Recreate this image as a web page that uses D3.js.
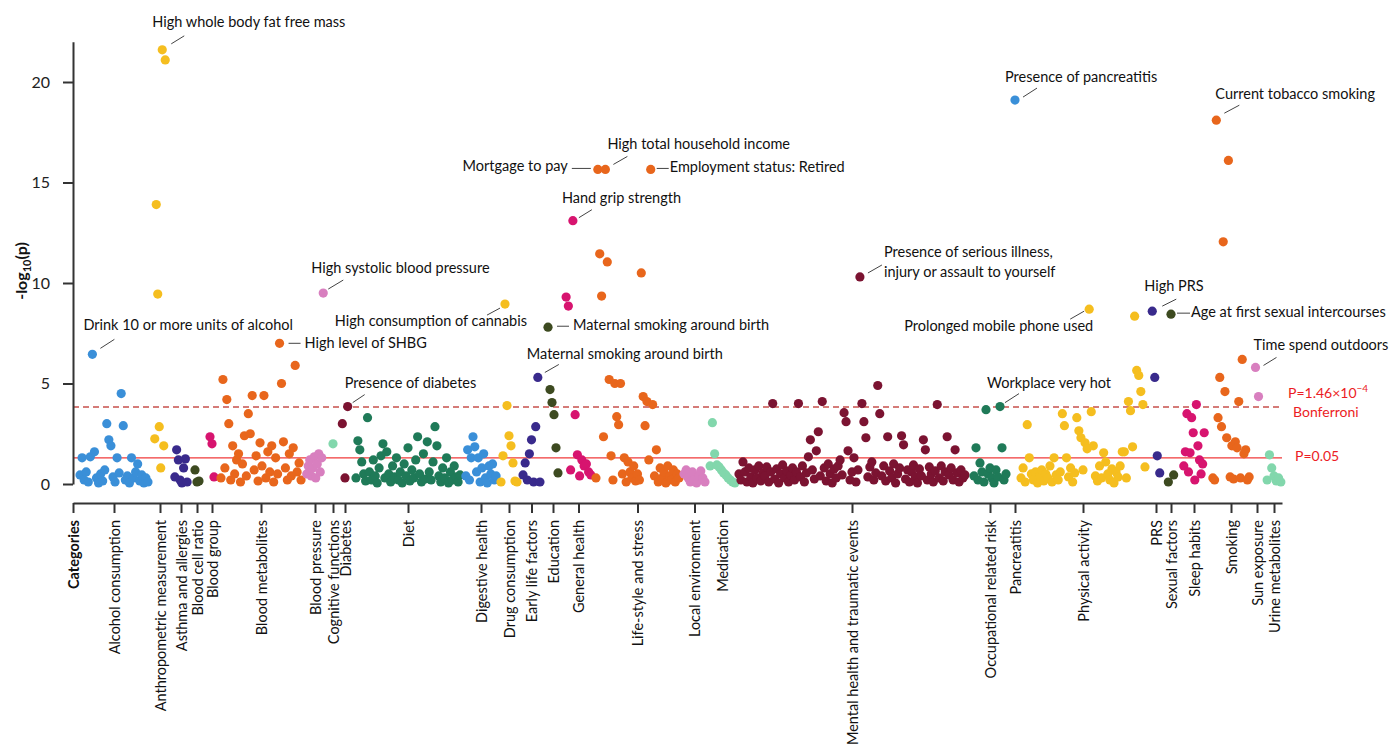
<!DOCTYPE html>
<html>
<head>
<meta charset="utf-8">
<script src="https://cdn.jsdelivr.net/npm/d3@7"></script>
<style>
  body { margin: 0; background: #fff; }
  svg { display: block; }
  text { font-family: Lato, "Open Sans", sans-serif; fill: #111; }
</style>
</head>
<body>
<svg id="chart" width="1392" height="754"></svg>
<script>
// Phenotype categories, in plotting order
const categories = [
  "Alcohol consumption", "Anthropometric measurement", "Asthma and allergies", "Blood cell ratio",
  "Blood group", "Blood metabolites", "Blood pressure", "Cognitive functions", "Diabetes", "Diet",
  "Digestive health", "Drug consumption", "Early life factors", "Education", "General health",
  "Life-style and stress", "Local environment", "Medication", "Mental health and traumatic events",
  "Occupational related risk", "Pancreatitis", "Physical activity", "PRS", "Sexual factors",
  "Sleep habits", "Smoking", "Sun exposure", "Urine metabolites"
];

// Phenotype-index range occupied by each category
const catStart = [6, 81, 101, 121, 136, 147, 233, 258, 268, 282, 392, 427, 449, 474, 492, 522, 610, 636, 665, 900, 939, 947, 1078, 1094, 1110, 1139, 1181, 1193];
const catEnd   = [76, 93, 115, 127, 142, 229, 251, 262, 276, 388, 424, 445, 468, 486, 519, 607, 633, 663, 893, 934, 945, 1073, 1088, 1102, 1132, 1177, 1187, 1209];

// -log10(p) of each phenotype, left to right within a category
const alcohol = [0.45, 1.3, 0.2, 0.6, 0.1, 1.35, 6.45, 1.6, 0.3, 0.05, 0.5, 0.15, 0.7, 3.0, 2.2, 1.9, 0.35, 0.1, 1.3, 0.55, 4.5, 2.9, 0.2, 0.4, 0.05, 1.3, 0.3, 0.6, 1.0, 0.15, 0.45, 0.05, 0.3, 0.1];
const anthropometric = [2.25, 13.9, 9.45, 2.85, 0.8, 21.6, 1.9, 21.1];
const asthma = [0.35, 1.7, 1.2, 0.2, 0.05, 0.8, 1.25, 0.1];
const bloodCellRatio = [0.7, 0.1, 0.15];
const bloodGroup = [2.35, 2.0, 0.35];
const bloodMetabolites = [0.3, 5.2, 0.8, 4.2, 3.0, 0.2, 1.9, 0.5, 1.2, 1.5, 0.1, 1.0, 2.4, 0.4, 3.5, 2.5, 4.4, 0.7, 1.4, 0.15, 2.05, 0.9, 4.4, 0.3, 1.6, 0.6, 1.9, 0.1, 1.3, 0.5, 7.0, 5.0, 2.1, 0.8, 0.2, 1.5, 0.4, 1.8, 5.9, 0.6, 1.05, 0.2];
const bloodPressure = [0.5, 0.9, 1.2, 0.4, 0.8, 1.35, 0.3, 1.0, 1.5, 0.6, 1.3, 9.5];
const cognitive = [2.0];
const diabetes = [3.0, 0.3, 3.85];
const diet = [0.3, 2.15, 1.7, 1.1, 0.5, 0.15, 3.3, 0.6, 0.2, 1.2, 0.4, 0.05, 0.8, 1.4, 2.0, 0.3, 1.6, 0.5, 0.1, 0.9, 0.35, 1.3, 0.2, 0.6, 0.05, 1.0, 0.4, 1.8, 0.15, 0.7, 0.3, 1.2, 2.35, 0.5, 0.1, 1.5, 0.25, 2.1, 0.6, 0.2, 1.1, 2.85, 1.9, 0.4, 0.1, 0.8, 0.3, 1.3, 0.05, 0.6, 0.2, 0.9, 0.35, 0.1, 0.45];
const digestive = [0.4, 1.7, 0.2, 1.3, 2.35, 1.85, 0.6, 1.3, 0.1, 0.8, 1.5, 0.3, 0.05, 0.9, 0.5, 1.0, 0.2, 0.4];
const drug = [0.1, 1.4, 8.95, 3.9, 2.4, 1.9, 1.05, 0.15, 0.1];
const earlyLife = [0.45, 1.05, 0.2, 1.5, 2.2, 0.1, 2.85, 5.3, 0.1];
const education = [7.8, 4.7, 4.05, 3.45, 1.8, 0.55];
const generalHealth = [9.3, 8.85, 0.7, 13.1, 3.45, 1.45, 0.4, 1.2, 0.9, 1.0, 0.6, 0.45];
const lifestyle = [0.3, 15.65, 11.45, 9.35, 2.35, 15.65, 11.05, 5.2, 1.4, 0.2, 5.0, 3.35, 2.95, 5.0, 0.5, 1.3, 0.1, 1.1, 0.6, 0.3, 0.9, 0.15, 0.5, 0.2, 10.5, 4.35, 2.9, 4.1, 1.2, 15.65, 3.95, 0.4, 1.7, 0.1, 0.8, 0.3, 0.6, 0.05, 0.9, 0.4, 0.2, 0.7, 0.1, 0.5, 0.3];
const localEnvironment = [0.5, 0.7, 0.3, 0.1, 0.6, 0.2, 0.05, 0.4, 0.65, 0.3, 0.1];
const medication = [0.9, 3.05, 1.5, 0.95, 0.85, 0.7, 0.55, 0.45, 0.3, 0.2, 0.1, 0.05];
const mentalHealth = [
  0.5, 0.2, 1.1, 0.6, 0.1, 0.8, 0.35, 0.05, 0.7, 0.3,
  0.9, 0.15, 0.55, 0.4, 0.85, 0.1, 0.6, 4.0, 0.25, 0.75,
  0.05, 0.5, 0.95, 0.3, 0.65, 0.1, 0.45, 0.8, 0.2, 0.6,
  4.0, 0.35, 0.9, 0.1, 0.55, 1.35, 2.2, 0.7, 0.25, 1.65,
  2.6, 0.4, 4.1, 0.8, 0.15, 1.0, 0.5, 0.05, 0.75, 0.3,
  0.9, 1.2, 0.45, 3.55, 3.1, 1.65, 0.2, 0.6, 1.3, 0.1,
  0.7, 10.3, 4.0, 3.1, 2.3, 0.35, 0.85, 1.1, 0.2, 0.55,
  4.9, 3.5, 0.4, 0.9, 0.15, 2.35, 0.65, 0.3, 1.0, 0.05,
  0.5, 0.8, 2.4, 1.95, 0.25, 0.7, 0.1, 0.6, 0.95, 0.35,
  0.05, 0.75, 0.4, 2.2, 1.7, 0.2, 0.85, 0.5, 0.1, 0.65,
  3.95, 0.3, 0.9, 0.15, 0.6, 2.35, 0.45, 0.8, 0.2, 1.7,
  0.55, 0.1, 0.7, 0.3, 0.45
];
const occupational = [0.4, 1.8, 0.2, 1.05, 0.6, 0.1, 3.7, 0.5, 0.8, 0.3, 0.05, 0.7, 0.35, 3.85, 1.8, 0.2, 0.5];
const pancreatitis = [19.1];
const physicalActivity = [
  0.3, 0.8, 0.1, 2.95, 1.3, 0.5, 0.2, 0.6, 0.05, 0.4,
  0.7, 0.15, 0.5, 0.3, 0.9, 0.1, 1.3, 0.45, 0.2, 0.6,
  3.5, 2.9, 1.3, 0.35, 0.8, 0.1, 0.55, 3.3, 2.65, 2.3,
  0.7, 2.05, 1.75, 8.7, 3.6, 1.9, 0.4, 0.15, 0.9, 0.3,
  1.55, 1.1, 0.5, 0.2, 0.75, 0.05, 0.6, 0.35, 0.9, 1.6,
  1.6, 0.3, 4.1, 3.65, 1.85, 8.35, 5.65, 5.4, 4.6, 3.95, 0.85
];
const prs = [8.6, 5.3, 1.4, 0.55];
const sexualFactors = [0.1, 8.45, 0.45];
const sleepHabits = [0.9, 1.6, 3.5, 0.6, 1.55, 3.3, 2.55, 0.2, 3.95, 1.9, 1.2, 0.5, 1.0, 2.55];
const smoking = [0.3, 0.2, 18.1, 3.3, 5.3, 2.85, 12.05, 4.6, 2.3, 16.1, 0.35, 1.9, 0.25, 2.1, 1.8, 4.1, 0.3, 6.2, 1.5, 1.7, 0.2, 0.35];
const sunExposure = [5.8, 4.35];
const urine = [0.2, 1.45, 0.8, 0.4, 0.15, 0.3, 0.1];

const seriesByCategory = [
  alcohol, anthropometric, asthma, bloodCellRatio, bloodGroup, bloodMetabolites, bloodPressure,
  cognitive, diabetes, diet, digestive, drug, earlyLife, education, generalHealth, lifestyle,
  localEnvironment, medication, mentalHealth, occupational, pancreatitis, physicalActivity, prs,
  sexualFactors, sleepHabits, smoking, sunExposure, urine
];

// Repeating category palette
const palette = ["#3a8fd8", "#f5be1f", "#392a8c", "#3d4a20", "#d7146f", "#e8661c", "#d87fbf", "#82d7ac", "#7b1331", "#1f7a58"];

const yTicks = [0, 5, 10, 15, 20];
const bonferroni = -Math.log10(1.46e-4);
const nominal = -Math.log10(0.05);

// Labelled phenotypes: category, index in category, text lines, label offset, leader offsets
const annotations = [
  { cat: 1,  idx: 5,  lines: ["High whole body fat free mass"], lx: -10, ly: -28, anchor: "start", lead: [9, -6, 22, -14] },
  { cat: 0,  idx: 6,  lines: ["Drink 10 or more units of alcohol"], lx: -9, ly: -29, anchor: "start", lead: [8, -6, 22, -15] },
  { cat: 6,  idx: 11, lines: ["High systolic blood pressure"], lx: -12, ly: -25, anchor: "start", lead: [5, -4, 20, -13] },
  { cat: 5,  idx: 30, lines: ["High level of SHBG"], lx: 25, ly: 0, anchor: "start", lead: [9, 0, 21, 0] },
  { cat: 11, idx: 2,  lines: ["High consumption of cannabis"], lx: 22, ly: 17, anchor: "end", lead: [-5, 4, -18, 11] },
  { cat: 8,  idx: 2,  lines: ["Presence of diabetes"], lx: -3, ly: -24, anchor: "start", lead: [5, -4, 17, -12] },
  { cat: 13, idx: 0,  lines: ["Maternal smoking around birth"], lx: 25, ly: -2, anchor: "start", lead: [9, -1, 21, -1] },
  { cat: 12, idx: 7,  lines: ["Maternal smoking around birth"], lx: -11, ly: -24, anchor: "start", lead: [7, -5, 21, -13] },
  { cat: 14, idx: 3,  lines: ["Hand grip strength"], lx: -11, ly: -23, anchor: "start", lead: [6, -3, 19, -11] },
  { cat: 15, idx: 1,  lines: ["Mortgage to pay"], lx: -30, ly: -4, anchor: "end", lead: [-26, -1, -7, -1] },
  { cat: 15, idx: 5,  lines: ["High total household income"], lx: 2, ly: -26, anchor: "start", lead: [8, -5, 22, -13] },
  { cat: 15, idx: 29, lines: ["Employment status: Retired"], lx: 19, ly: -3, anchor: "start", lead: [6, -1, 18, -1] },
  { cat: 18, idx: 61, lines: ["Presence of serious illness,", "injury or assault to yourself"], lx: 24, ly: -25, anchor: "start", lead: [8, -4, 22, -12] },
  { cat: 20, idx: 0,  lines: ["Presence of pancreatitis"], lx: -10, ly: -23, anchor: "start", lead: [8, -3, 22, -12] },
  { cat: 25, idx: 2,  lines: ["Current tobacco smoking"], lx: -1, ly: -26, anchor: "start", lead: [8, -7, 23, -15] },
  { cat: 21, idx: 33, lines: ["Prolonged mobile phone used"], lx: 4, ly: 17, anchor: "end", lead: [-5, 2, -19, 10] },
  { cat: 22, idx: 0,  lines: ["High PRS"], lx: -8, ly: -25, anchor: "start", lead: [10, -5, 24, -12] },
  { cat: 23, idx: 1,  lines: ["Age at first sexual intercourses"], lx: 20, ly: -2, anchor: "start", lead: [6, -1, 19, -1] },
  { cat: 26, idx: 0,  lines: ["Time spend outdoors"], lx: -2, ly: -22, anchor: "start", lead: [8, -2, 21, -10] },
  { cat: 19, idx: 13, lines: ["Workplace very hot"], lx: -13, ly: -24, anchor: "start", lead: [5, -4, 19, -13] }
];

const svg = d3.select("#chart");

const x = d3.scaleLinear().domain([0, 1209]).range([73, 1282]);
const y = d3.scaleLinear().domain([0, 22]).range([484, 41.8]);

// Flatten into one point per phenotype, spread evenly over its category's range
const points = [];
seriesByCategory.forEach((vals, c) => {
  const step = (catEnd[c] - catStart[c]) / vals.length;
  vals.forEach((v, i) => {
    points.push({ cat: c, idx: i, pos: catStart[c] + (i + 0.5) * step, value: v });
  });
});

// Significance thresholds
svg.append("line")
  .attr("x1", x(0)).attr("x2", x(1209))
  .attr("y1", y(bonferroni)).attr("y2", y(bonferroni))
  .attr("stroke", "#c8504c").attr("stroke-width", 1.5).attr("stroke-dasharray", "6,4");
svg.append("line")
  .attr("x1", x(0)).attr("x2", x(1209))
  .attr("y1", y(nominal)).attr("y2", y(nominal))
  .attr("stroke", "#f03a3a").attr("stroke-width", 1.3);

// Points
svg.append("g").selectAll("circle")
  .data(points)
  .join("circle")
  .attr("cx", d => x(d.pos))
  .attr("cy", d => y(d.value))
  .attr("r", 4.6)
  .attr("fill", d => palette[d.cat % palette.length]);

// Y axis
const yAxis = d3.axisLeft(y).tickValues(yTicks).tickSize(10).tickPadding(13).tickSizeOuter(0);
const gy = svg.append("g").attr("transform", "translate(73,0)").call(yAxis);
gy.select(".domain").attr("stroke", "#333").attr("stroke-width", 2);
gy.selectAll(".tick line").attr("stroke", "#333").attr("stroke-width", 2);
gy.selectAll(".tick text").style("font-size", "16px").style("fill", "#222");

svg.append("text")
  .attr("transform", "translate(27,271) rotate(-90)")
  .attr("text-anchor", "middle")
  .style("font-size", "16px").style("font-weight", "bold")
  .call(t => {
    t.append("tspan").text("-log");
    t.append("tspan").attr("dy", 4).style("font-size", "11px").text("10");
    t.append("tspan").attr("dy", -4).text("(p)");
  });

// X axis with category ticks
const tickPos = [0].concat(categories.map((_, i) => (catStart[i] + catEnd[i]) / 2));
const tickNames = ["Categories"].concat(categories);
const xAxis = d3.axisBottom(x).tickValues(tickPos).tickFormat((d, i) => tickNames[i]).tickSize(10).tickSizeOuter(0);
const gx = svg.append("g").attr("transform", "translate(0,503)").call(xAxis);
gx.select(".domain").attr("stroke", "#333").attr("stroke-width", 2);
gx.selectAll(".tick line").attr("stroke", "#333").attr("stroke-width", 2);
gx.selectAll(".tick text")
  .attr("transform", "rotate(-90)")
  .attr("x", -17).attr("y", 0).attr("dy", "0.35em")
  .attr("text-anchor", "end")
  .style("font-size", "14.5px").style("fill", "#111")
  .style("font-weight", (d, i) => i === 0 ? "bold" : "normal");

// Threshold captions
const cap = svg.append("g").style("font-size", "14px");
cap.append("text").attr("x", 1288).attr("y", y(bonferroni) - 14).attr("dy", "0.35em").style("fill", "#ec1c24")
  .call(t => {
    t.append("tspan").text("P=1.46×10");
    t.append("tspan").attr("dy", -6).style("font-size", "10px").text("−4");
  });
cap.append("text").attr("x", 1293).attr("y", y(bonferroni) + 5).attr("dy", "0.35em").style("fill", "#ec1c24").text("Bonferroni");
cap.append("text").attr("x", 1295).attr("y", y(nominal) - 2).attr("dy", "0.35em").style("fill", "#ec1c24").text("P=0.05");

// Annotations with leader lines
const ann = svg.append("g");
annotations.forEach(a => {
  const p = points.find(d => d.cat === a.cat && d.idx === a.idx);
  const px = x(p.pos), py = y(p.value);
  ann.append("line")
    .attr("x1", px + a.lead[0]).attr("y1", py + a.lead[1])
    .attr("x2", px + a.lead[2]).attr("y2", py + a.lead[3])
    .attr("stroke", "#444").attr("stroke-width", 1);
  const t = ann.append("text")
    .attr("x", px + a.lx).attr("y", py + a.ly)
    .attr("text-anchor", a.anchor)
    .style("font-size", "14.5px");
  a.lines.forEach((line, k) => {
    t.append("tspan").attr("x", px + a.lx).attr("y", py + a.ly + k * 20).attr("dy", "0.35em").text(line);
  });
});
</script>
</body>
</html>
